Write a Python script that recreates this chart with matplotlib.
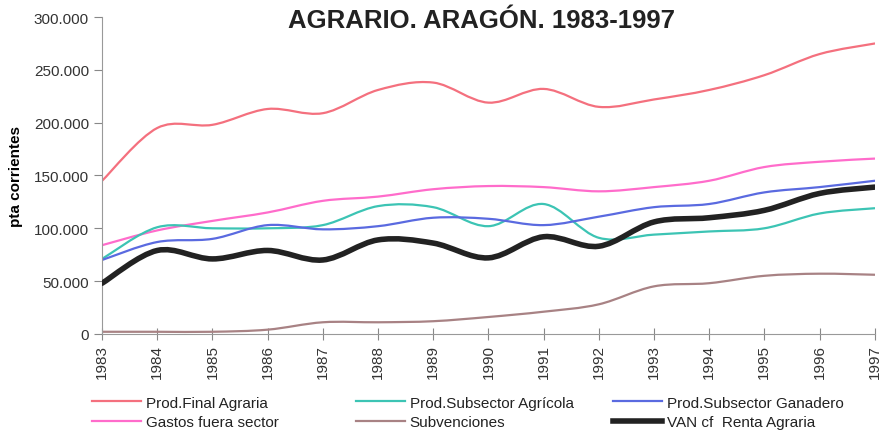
import numpy as np
import matplotlib
matplotlib.use("Agg")
import matplotlib.pyplot as plt
from matplotlib.path import Path
from matplotlib.patches import PathPatch
from matplotlib.lines import Line2D
from matplotlib.ticker import FuncFormatter

plt.rcParams["font.family"] = ["Liberation Sans", "DejaVu Sans"]

years = np.arange(1983, 1998)

prod_final = [145, 195, 198, 213, 209, 231, 238, 219, 232, 215, 222, 231, 245, 265, 275]
gastos = [84, 98, 107, 115, 126, 130, 137, 140, 139, 135, 139, 145, 158, 163, 166]
agricola = [71, 101, 100, 100, 103, 121, 120, 102, 123, 91, 94, 97, 100, 114, 119]
ganadero = [70, 87, 90, 103, 99, 102, 110, 109, 103, 111, 120, 123, 134, 139, 145]
subvenciones = [2, 2, 2, 4, 11, 11, 12, 16, 21, 28, 45, 48, 55, 57, 56]
van = [48, 79, 71, 79, 70, 89, 86, 72, 92, 83, 106, 110, 117, 133, 139]

series = [
    ("Prod.Final Agraria", prod_final, "#f4707e", 1.6),
    ("Gastos fuera sector", gastos, "#ff6ccb", 1.6),
    ("Prod.Subsector Agrícola", agricola, "#3cc4b4", 1.6),
    ("Subvenciones", subvenciones, "#a88284", 1.6),
    ("Prod.Subsector Ganadero", ganadero, "#5a6ae0", 1.6),
    ("VAN cf  Renta Agraria", van, "#222222", 4.0),
]


def smooth_path(x, y, k=1 / 6):
    # Excel-style smoothed line: cubic Bezier through every point
    x = np.asarray(x, float)
    y = np.asarray(y, float) * 1000
    verts = [(x[0], y[0])]
    codes = [Path.MOVETO]
    n = len(x)
    for i in range(n - 1):
        p0 = i - 1 if i > 0 else i
        p3 = i + 2 if i + 2 < n else i + 1
        c1 = (x[i] + (x[i + 1] - x[p0]) * k, y[i] + (y[i + 1] - y[p0]) * k)
        c2 = (x[i + 1] - (x[p3] - x[i]) * k, y[i + 1] - (y[p3] - y[i]) * k)
        verts += [c1, c2, (x[i + 1], y[i + 1])]
        codes += [Path.CURVE4] * 3
    return Path(verts, codes)


fig = plt.figure(figsize=(8.8, 4.31), dpi=100)
ax = fig.add_axes([0.116, 0.223, 0.878, 0.735])

handles = []
for name, vals, color, lw in series:
    ax.add_patch(PathPatch(smooth_path(years, vals), facecolor="none",
                           edgecolor=color, lw=lw, capstyle="round",
                           joinstyle="round", zorder=3 if lw > 2 else 2))
    handles.append(Line2D([], [], color=color, lw=lw, label=name))

ax.set_xlim(1983, 1997)
ax.set_ylim(0, 300000)
ax.set_xticks(years)
ax.set_xticklabels([str(y) for y in years], rotation=90, fontsize=11,
                   color="#333333")
ax.set_yticks(np.arange(0, 300001, 50000))
ax.yaxis.set_major_formatter(FuncFormatter(
    lambda v, p: f"{int(v):,}".replace(",", ".")))
ax.tick_params(axis="y", labelsize=11, labelcolor="#333333", color="#888888",
               length=6, direction="out")
ax.tick_params(axis="x", color="#888888", length=8, direction="inout")
for s in ["top", "right"]:
    ax.spines[s].set_visible(False)
for s in ["left", "bottom"]:
    ax.spines[s].set_color("#999999")

ax.set_ylabel("pta corrientes", fontsize=11, fontweight="bold", labelpad=8)
fig.text(0.547, 0.952, "AGRARIO. ARAGÓN. 1983-1997", fontsize=18.5,
         fontweight="bold", ha="center", va="center", color="#222222")

# three legend columns, placed like the original
col_x = [0.098, 0.398, 0.69]
for j, x0 in enumerate(col_x):
    leg = fig.legend(handles=handles[2 * j:2 * j + 2], loc="lower left",
                     bbox_to_anchor=(x0, -0.012), frameon=False,
                     prop={"size": 11},
                     handlelength=3.2, handletextpad=0.3, labelspacing=0.35,
                     borderaxespad=0.0)
    for t in leg.get_texts():
        t.set_color("#222222")

fig.savefig("out.png", dpi=100, facecolor="white")
